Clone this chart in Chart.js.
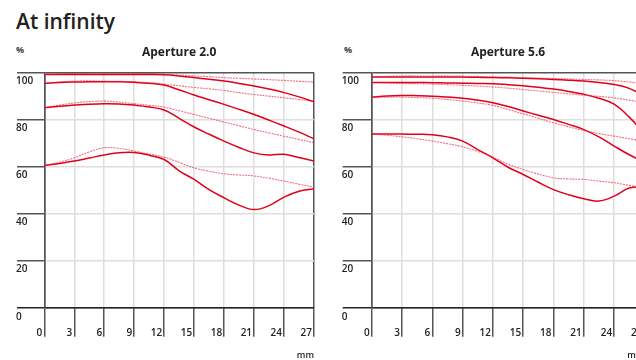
<!DOCTYPE html>
<html>
<head>
<meta charset="utf-8">
<script src="https://cdn.jsdelivr.net/npm/chart.js@4"></script>
<style>
  body { margin: 0; width: 636px; height: 360px; overflow: hidden; position: relative; background: #fff; font-family: 'Open Sans', sans-serif; color: #222; }
  .heading { position: absolute; left: 16px; top: 9px; font-size: 21px; line-height: 24px; font-weight: 600; }
  .unit { position: absolute; top: 45px; font-size: 9px; line-height: 10px; font-weight: 700; color: #444; }
  .panel { position: absolute; top: 0; }
</style>
</head>
<body>
<div class="heading">At infinity</div>
<div class="unit" style="left:16px">%</div>
<div class="unit" style="left:344px">%</div>
<div class="panel" style="left:0"><canvas id="chartF20" width="320" height="360"></canvas></div>
<div class="panel" style="left:320px"><canvas id="chartF56" width="330" height="360"></canvas></div>
<script>
// image height in mm, sampled every 1.5 mm
const xs = [0, 1.5, 3, 4.5, 6, 7.5, 9, 10.5, 12, 13.5, 15, 16.5, 18, 19.5, 21, 22.5, 24, 25.5, 27];
const xTickValues = [0, 3, 6, 9, 12, 15, 18, 21, 24, 27];
const yTickValues = [0, 20, 40, 60, 80, 100];

// aperture 2.0 - solid and dotted pairs, top to bottom
const f20_1s = [99.1, 99.1, 99.1, 99.1, 99.1, 99.1, 99.1, 99.1, 99.0, 98.5, 97.8, 97.1, 96.3, 95.3, 94.2, 92.9, 91.4, 89.6, 87.5];
const f20_1d = [99.1, 99.4, 99.6, 99.7, 99.8, 99.8, 99.7, 99.5, 99.2, 98.9, 98.5, 98.2, 97.8, 97.5, 97.2, 96.9, 96.6, 96.2, 95.9];
const f20_2s = [95.3, 95.7, 95.9, 96.0, 96.0, 96.0, 95.8, 95.4, 94.6, 92.6, 90.4, 88.4, 86.4, 84.3, 82.1, 79.7, 77.2, 74.6, 71.8];
const f20_2d = [95.3, 95.9, 96.3, 96.4, 96.3, 96.2, 96.0, 95.6, 95.0, 94.3, 93.6, 93.0, 92.3, 91.4, 90.6, 89.9, 89.2, 88.5, 87.8];
const f20_3s = [85.0, 85.6, 86.1, 86.5, 86.7, 86.6, 86.1, 85.3, 84.0, 80.5, 76.8, 73.7, 70.8, 68.1, 65.8, 64.9, 65.2, 63.8, 62.3];
const f20_3d = [85.0, 86.1, 87.0, 87.6, 87.8, 87.4, 86.7, 86.0, 85.3, 83.7, 82.1, 80.5, 78.9, 77.3, 75.7, 74.3, 72.9, 71.5, 70.1];
const f20_4s = [60.4, 61.3, 62.3, 63.6, 64.9, 65.9, 66.0, 64.8, 63.0, 58.2, 54.5, 50.2, 46.7, 43.6, 41.7, 43.4, 47.0, 49.5, 50.6];
const f20_4d = [60.4, 61.8, 63.7, 66.2, 68.0, 67.7, 66.6, 65.3, 64.0, 61.8, 59.4, 58.0, 56.9, 56.4, 56.0, 55.0, 53.8, 52.5, 51.2];

// aperture 5.6
const f56_1s = [98.0, 98.0, 98.0, 98.0, 98.0, 98.0, 98.0, 97.9, 97.8, 97.7, 97.5, 97.3, 97.0, 96.7, 96.3, 95.7, 94.9, 93.2, 90.0];
const f56_1d = [98.0, 98.3, 98.5, 98.5, 98.5, 98.5, 98.4, 98.3, 98.1, 98.0, 97.8, 97.6, 97.4, 97.2, 97.0, 96.8, 96.5, 95.9, 95.2];
const f56_2s = [95.7, 95.7, 95.7, 95.7, 95.6, 95.5, 95.4, 95.3, 95.2, 94.8, 94.3, 93.7, 92.9, 91.9, 90.7, 89.0, 86.5, 81.0, 74.0];
const f56_2d = [95.7, 95.5, 95.3, 95.2, 95.0, 94.8, 94.5, 94.2, 93.8, 93.3, 92.7, 92.1, 91.5, 90.9, 90.3, 89.8, 89.2, 88.2, 87.0];
const f56_3s = [89.5, 90.0, 90.2, 90.1, 89.9, 89.5, 89.0, 88.2, 87.1, 85.5, 83.6, 81.8, 80.0, 77.9, 75.7, 72.6, 68.7, 65.0, 61.8];
const f56_3d = [89.5, 89.5, 89.5, 89.3, 89.0, 88.5, 87.8, 87.0, 86.0, 84.2, 82.4, 80.5, 78.6, 76.9, 75.3, 74.0, 72.9, 71.8, 70.7];
const f56_4s = [73.8, 73.8, 73.8, 73.7, 73.5, 72.6, 70.8, 67.2, 63.7, 59.7, 56.6, 53.3, 50.2, 48.0, 46.3, 45.3, 47.4, 50.9, 51.3];
const f56_4d = [73.8, 73.3, 72.6, 71.8, 70.8, 69.7, 68.4, 66.4, 64.0, 61.0, 58.7, 56.8, 55.2, 54.7, 54.5, 53.8, 53.1, 52.0, 51.0];

const RED = '#e0001b';
const DOT_RED = 'rgba(232, 30, 60, 0.65)';
const DARK = '#555';
const LIGHT = '#dedede';
const tickFont = { family: "'Open Sans', sans-serif", size: 10, weight: '600' };

function toPoints(vals) {
    return xs.map((x, i) => ({ x: x, y: vals[i] }));
}

function solid(vals) {
    return { data: toPoints(vals), borderColor: RED, borderWidth: 1.5, pointRadius: 0, tension: 0.4 };
}

function dotted(vals) {
    return { data: toPoints(vals), borderColor: DOT_RED, borderWidth: 1.1, borderDash: [2, 1], pointRadius: 0, tension: 0.4 };
}

function makeChart(id, title, series, pad, yWidth) {
    const ctx = document.getElementById(id).getContext('2d');
    const datasets = [];
    // dotted curves go underneath the solid ones
    series.forEach(s => datasets.push(dotted(s[1])));
    series.forEach(s => datasets.push(solid(s[0])));

    return new Chart(ctx, {
        type: 'line',
        data: { datasets: datasets },
        options: {
            responsive: false,
            animation: false,
            layout: { padding: { left: pad.left, right: pad.right, top: 40, bottom: 0 } },
            plugins: {
                legend: { display: false },
                tooltip: { enabled: false },
                title: {
                    display: true,
                    text: title,
                    fullSize: false,
                    color: '#222',
                    font: { family: "'Open Sans', sans-serif", size: 12, weight: 'bold' },
                    padding: { top: 5, bottom: 13 }
                }
            },
            scales: {
                x: {
                    type: 'linear',
                    min: 0,
                    max: 27,
                    afterBuildTicks: axis => { axis.ticks = xTickValues.map(v => ({ value: v })); },
                    afterFit: axis => { axis.height = 52.3; },
                    grid: {
                        color: c => (c.tick && (c.tick.value === 0 || c.tick.value === 27)) ? DARK : LIGHT,
                        lineWidth: 1.5,
                        tickColor: DARK,
                        tickLength: 29,
                        tickWidth: 1.5
                    },
                    border: { display: true, color: '#222', width: 1.2 },
                    ticks: {
                        align: 'end',
                        labelOffset: -2,
                        padding: -10,
                        color: '#222',
                        font: tickFont,
                        maxRotation: 0,
                        autoSkip: false
                    },
                    title: {
                        display: true,
                        text: 'mm',
                        align: 'end',
                        color: '#222',
                        font: { family: "'Open Sans', sans-serif", size: 9, weight: '600', lineHeight: 1 },
                        padding: 0
                    }
                },
                y: {
                    min: 0,
                    max: 100,
                    afterBuildTicks: axis => { axis.ticks = yTickValues.map(v => ({ value: v })); },
                    afterFit: axis => { axis.width = yWidth; },
                    grid: {
                        color: c => (c.tick && (c.tick.value === 100)) ? DARK : (c.tick && c.tick.value === 0 ? '#222' : LIGHT),
                        lineWidth: 1.5,
                        tickColor: c => (c.tick && c.tick.value === 0) ? '#222' : DARK,
                        tickLength: yWidth - 1,
                        tickWidth: 1.5
                    },
                    border: { display: true, color: DARK, width: 1.5 },
                    ticks: {
                        crossAlign: 'far',
                        labelOffset: 9,
                        color: '#222',
                        font: tickFont,
                        autoSkip: false
                    }
                }
            }
        }
    });
}

makeChart('chartF20', 'Aperture 2.0',
    [[f20_1s, f20_1d], [f20_2s, f20_2d], [f20_3s, f20_3d], [f20_4s, f20_4d]],
    { left: 16, right: 6 }, 28.3);

makeChart('chartF56', 'Aperture 5.6',
    [[f56_1s, f56_1d], [f56_2s, f56_2d], [f56_3s, f56_3d], [f56_4s, f56_4d]],
    { left: 21.7, right: 5.6 }, 30);
</script>
</body>
</html>
